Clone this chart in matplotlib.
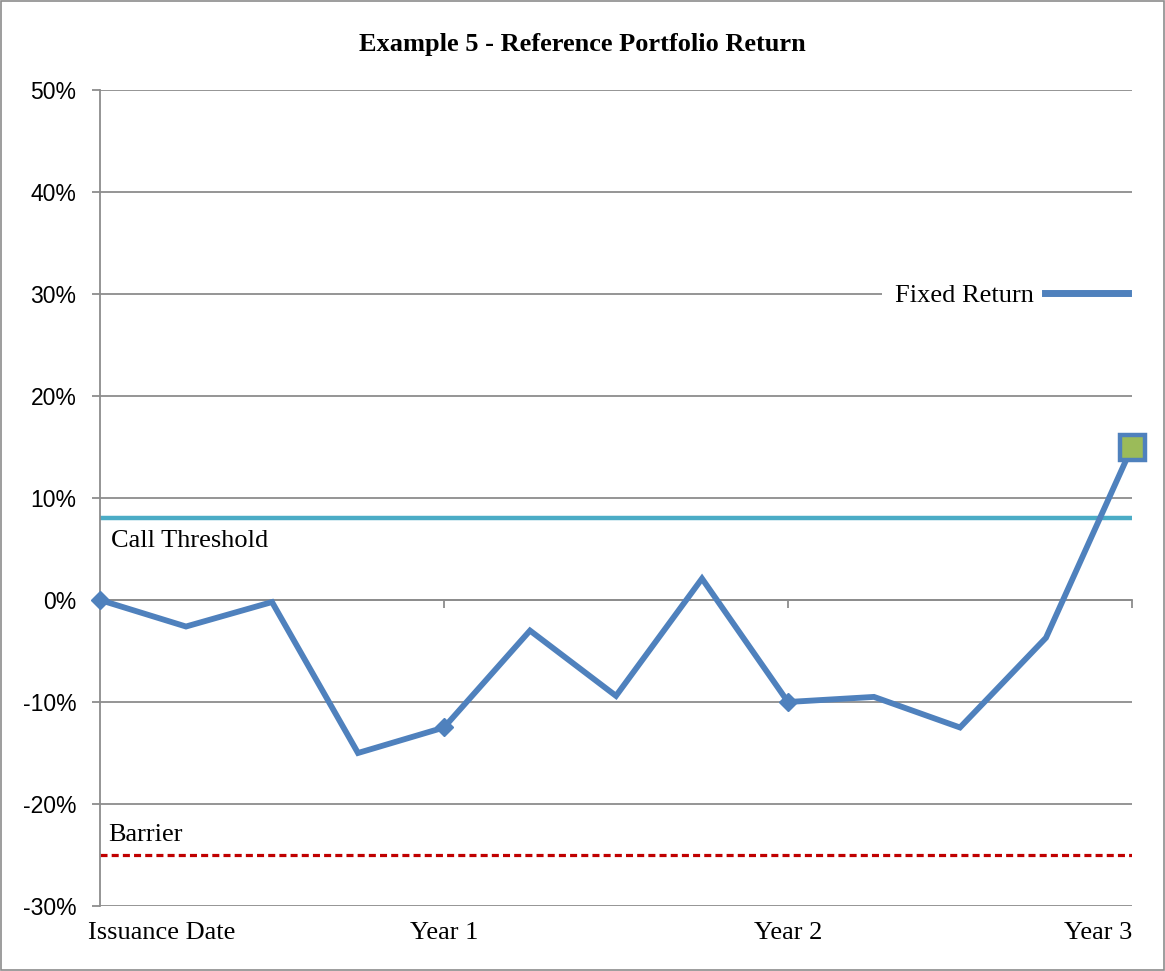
import matplotlib
matplotlib.use("Agg")
import matplotlib.pyplot as plt
from matplotlib.lines import Line2D
from matplotlib.patches import Rectangle
import matplotlib.transforms as mtransforms

# data
periods = list(range(13))
portfolio_return = [0.0, -2.6, -0.2, -15.0, -12.5, -3.0, -9.4, 2.1, -10.0, -9.5, -12.5, -3.7, 15.0]
anniversary_idx = [0, 4, 8]
call_threshold = 8.0
barrier = -25.0
year_ticks = [0, 4, 8, 12]
year_labels = ["Issuance Date", "Year 1", "Year 2", "Year 3"]
y_ticks = [-30, -20, -10, 0, 10, 20, 30, 40, 50]

BLUE = "#4F81BD"
CYAN = "#4BACC6"
RED = "#C00000"
GREEN = "#9BBB59"
GRID = "#8C8C8C"
serif = ["Liberation Serif", "DejaVu Serif"]
sans = ["Liberation Sans", "DejaVu Sans"]

fig = plt.figure(figsize=(11.65, 9.71), dpi=100)
ax = fig.add_axes([100/1165, 1 - 906/971, (1132-100)/1165, (906-90)/971])

ax.set_xlim(0, 12)
ax.set_ylim(-30, 50)
ax.set_yticks(y_ticks)
ax.set_yticklabels([f"{v}%" for v in y_ticks], fontsize=16.5, family=sans)
ax.yaxis.grid(True, color=GRID, linewidth=1.3)
ax.set_axisbelow(True)

# x axis crosses at 0%
for s in ["top", "right"]:
    ax.spines[s].set_visible(False)
ax.spines["bottom"].set_position(("data", 0))
ax.spines["bottom"].set_color(GRID)
ax.spines["bottom"].set_linewidth(1.3)
ax.spines["left"].set_color(GRID)
ax.spines["left"].set_linewidth(1.3)
ax.set_xticks(year_ticks)
ax.set_xticklabels([])
ax.tick_params(axis="x", direction="out", length=6, width=1.3, color=GRID)
ax.tick_params(axis="y", direction="out", length=6, width=1.3, color=GRID, pad=11)

# category labels under the plot
trans = mtransforms.blended_transform_factory(ax.transData, ax.transAxes)
for pos, lab in zip(year_ticks, year_labels):
    ha = "center"
    xx = pos
    if pos == year_ticks[0]:
        ha, xx = "left", pos - 0.14
    elif pos == year_ticks[-1]:
        ha = "right"
    ax.text(xx, -0.02, lab, transform=trans, ha=ha, va="top",
            fontsize=19, family=serif)

# reference lines
ax.axhline(call_threshold, color=CYAN, linewidth=3.2, zorder=2)
ax.axhline(barrier, color=RED, linewidth=2.3, linestyle=(0, (2.2, 1.3)), zorder=2)
ax.text(0.13, 5.8, "Call Threshold", ha="left", va="center",
        fontsize=19, family=serif)
ax.text(0.09, -23.0, "Barrier", ha="left", va="center",
        fontsize=19, family=serif)

# portfolio path
ax.plot(periods, portfolio_return, color=BLUE, linewidth=4.2, zorder=3,
        solid_joinstyle="miter")
ax.plot([periods[i] for i in anniversary_idx],
        [portfolio_return[i] for i in anniversary_idx],
        linestyle="none", marker="D", markersize=9, color=BLUE, zorder=4,
        clip_on=False)
ax.plot(periods[-1], portfolio_return[-1], linestyle="none", marker="s",
        markersize=18, markerfacecolor=GREEN, markeredgecolor=BLUE,
        markeredgewidth=3.2, zorder=5, clip_on=False)

handle = Line2D([], [], color=BLUE, linewidth=5)
leg = ax.legend([handle], ["Fixed Return"], loc="center right",
                bbox_to_anchor=(1.0087, 0.748), markerfirst=False, frameon=True,
                prop={"family": serif, "size": 19}, handlelength=3.15,
                handletextpad=0.4, borderaxespad=0, borderpad=0.5)
leg.get_frame().set_facecolor("white")
leg.get_frame().set_edgecolor("none")
leg.get_frame().set_alpha(1)

fig.text(0.5, 1 - 45/971, "Example 5 - Reference Portfolio Return",
         ha="center", va="center", fontsize=19, fontweight="bold", family=serif)

# outer chart border
fig.patches.append(Rectangle((0.001, 0.001), 0.998, 0.998, transform=fig.transFigure,
                             fill=False, edgecolor="#8C8C8C", linewidth=1.2))

fig.savefig("out.png", dpi=100)
